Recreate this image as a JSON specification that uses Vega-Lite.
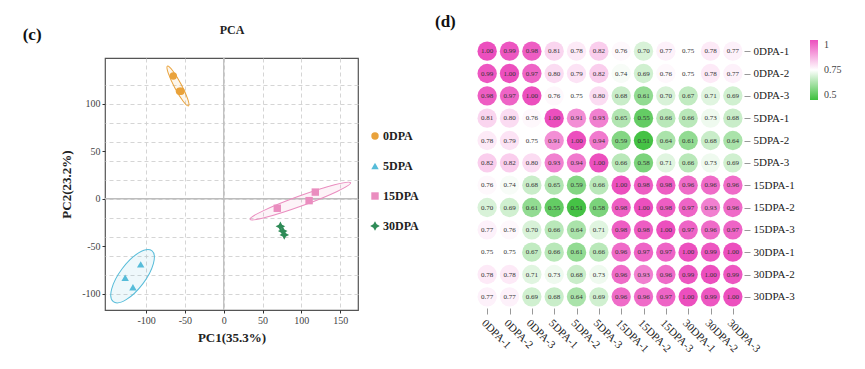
{
  "$schema": "https://vega.github.io/schema/vega-lite/v6.json",
  "background": "white",
  "padding": {"left": 22, "top": 13, "right": 0, "bottom": 0},
  "config": {"font": "Liberation Serif"},
  "datasets": {
    "pca": [
      {"group": "0DPA", "pc1": -65, "pc2": 129},
      {"group": "0DPA", "pc1": -57, "pc2": 113},
      {"group": "0DPA", "pc1": -55, "pc2": 113},
      {"group": "5DPA", "pc1": -107, "pc2": -69},
      {"group": "5DPA", "pc1": -127, "pc2": -83},
      {"group": "5DPA", "pc1": -117, "pc2": -93},
      {"group": "15DPA", "pc1": 69, "pc2": -10},
      {"group": "15DPA", "pc1": 110, "pc2": -2},
      {"group": "15DPA", "pc1": 118, "pc2": 7},
      {"group": "30DPA", "pc1": 73, "pc2": -29},
      {"group": "30DPA", "pc1": 76, "pc2": -34},
      {"group": "30DPA", "pc1": 78, "pc2": -38}
    ],
    "ellipses": [
      {"group": "0DPA", "cx": -59, "cy": 118.6},
      {"group": "5DPA", "cx": -117.5, "cy": -81.4},
      {"group": "15DPA", "cx": 98.7, "cy": -2.4}
    ],
    "zero": [{"z": 0}],
    "corr": [
      {"row":"0DPA-1","col":"0DPA-1","r":1.00},{"row":"0DPA-1","col":"0DPA-2","r":0.99},{"row":"0DPA-1","col":"0DPA-3","r":0.98},{"row":"0DPA-1","col":"5DPA-1","r":0.81},{"row":"0DPA-1","col":"5DPA-2","r":0.78},{"row":"0DPA-1","col":"5DPA-3","r":0.82},{"row":"0DPA-1","col":"15DPA-1","r":0.76},{"row":"0DPA-1","col":"15DPA-2","r":0.70},{"row":"0DPA-1","col":"15DPA-3","r":0.77},{"row":"0DPA-1","col":"30DPA-1","r":0.75},{"row":"0DPA-1","col":"30DPA-2","r":0.78},{"row":"0DPA-1","col":"30DPA-3","r":0.77},
      {"row":"0DPA-2","col":"0DPA-1","r":0.99},{"row":"0DPA-2","col":"0DPA-2","r":1.00},{"row":"0DPA-2","col":"0DPA-3","r":0.97},{"row":"0DPA-2","col":"5DPA-1","r":0.80},{"row":"0DPA-2","col":"5DPA-2","r":0.79},{"row":"0DPA-2","col":"5DPA-3","r":0.82},{"row":"0DPA-2","col":"15DPA-1","r":0.74},{"row":"0DPA-2","col":"15DPA-2","r":0.69},{"row":"0DPA-2","col":"15DPA-3","r":0.76},{"row":"0DPA-2","col":"30DPA-1","r":0.75},{"row":"0DPA-2","col":"30DPA-2","r":0.78},{"row":"0DPA-2","col":"30DPA-3","r":0.77},
      {"row":"0DPA-3","col":"0DPA-1","r":0.98},{"row":"0DPA-3","col":"0DPA-2","r":0.97},{"row":"0DPA-3","col":"0DPA-3","r":1.00},{"row":"0DPA-3","col":"5DPA-1","r":0.76},{"row":"0DPA-3","col":"5DPA-2","r":0.75},{"row":"0DPA-3","col":"5DPA-3","r":0.80},{"row":"0DPA-3","col":"15DPA-1","r":0.68},{"row":"0DPA-3","col":"15DPA-2","r":0.61},{"row":"0DPA-3","col":"15DPA-3","r":0.70},{"row":"0DPA-3","col":"30DPA-1","r":0.67},{"row":"0DPA-3","col":"30DPA-2","r":0.71},{"row":"0DPA-3","col":"30DPA-3","r":0.69},
      {"row":"5DPA-1","col":"0DPA-1","r":0.81},{"row":"5DPA-1","col":"0DPA-2","r":0.80},{"row":"5DPA-1","col":"0DPA-3","r":0.76},{"row":"5DPA-1","col":"5DPA-1","r":1.00},{"row":"5DPA-1","col":"5DPA-2","r":0.91},{"row":"5DPA-1","col":"5DPA-3","r":0.93},{"row":"5DPA-1","col":"15DPA-1","r":0.65},{"row":"5DPA-1","col":"15DPA-2","r":0.55},{"row":"5DPA-1","col":"15DPA-3","r":0.66},{"row":"5DPA-1","col":"30DPA-1","r":0.66},{"row":"5DPA-1","col":"30DPA-2","r":0.73},{"row":"5DPA-1","col":"30DPA-3","r":0.68},
      {"row":"5DPA-2","col":"0DPA-1","r":0.78},{"row":"5DPA-2","col":"0DPA-2","r":0.79},{"row":"5DPA-2","col":"0DPA-3","r":0.75},{"row":"5DPA-2","col":"5DPA-1","r":0.91},{"row":"5DPA-2","col":"5DPA-2","r":1.00},{"row":"5DPA-2","col":"5DPA-3","r":0.94},{"row":"5DPA-2","col":"15DPA-1","r":0.59},{"row":"5DPA-2","col":"15DPA-2","r":0.51},{"row":"5DPA-2","col":"15DPA-3","r":0.64},{"row":"5DPA-2","col":"30DPA-1","r":0.61},{"row":"5DPA-2","col":"30DPA-2","r":0.68},{"row":"5DPA-2","col":"30DPA-3","r":0.64},
      {"row":"5DPA-3","col":"0DPA-1","r":0.82},{"row":"5DPA-3","col":"0DPA-2","r":0.82},{"row":"5DPA-3","col":"0DPA-3","r":0.80},{"row":"5DPA-3","col":"5DPA-1","r":0.93},{"row":"5DPA-3","col":"5DPA-2","r":0.94},{"row":"5DPA-3","col":"5DPA-3","r":1.00},{"row":"5DPA-3","col":"15DPA-1","r":0.66},{"row":"5DPA-3","col":"15DPA-2","r":0.58},{"row":"5DPA-3","col":"15DPA-3","r":0.71},{"row":"5DPA-3","col":"30DPA-1","r":0.66},{"row":"5DPA-3","col":"30DPA-2","r":0.73},{"row":"5DPA-3","col":"30DPA-3","r":0.69},
      {"row":"15DPA-1","col":"0DPA-1","r":0.76},{"row":"15DPA-1","col":"0DPA-2","r":0.74},{"row":"15DPA-1","col":"0DPA-3","r":0.68},{"row":"15DPA-1","col":"5DPA-1","r":0.65},{"row":"15DPA-1","col":"5DPA-2","r":0.59},{"row":"15DPA-1","col":"5DPA-3","r":0.66},{"row":"15DPA-1","col":"15DPA-1","r":1.00},{"row":"15DPA-1","col":"15DPA-2","r":0.98},{"row":"15DPA-1","col":"15DPA-3","r":0.98},{"row":"15DPA-1","col":"30DPA-1","r":0.96},{"row":"15DPA-1","col":"30DPA-2","r":0.96},{"row":"15DPA-1","col":"30DPA-3","r":0.96},
      {"row":"15DPA-2","col":"0DPA-1","r":0.70},{"row":"15DPA-2","col":"0DPA-2","r":0.69},{"row":"15DPA-2","col":"0DPA-3","r":0.61},{"row":"15DPA-2","col":"5DPA-1","r":0.55},{"row":"15DPA-2","col":"5DPA-2","r":0.51},{"row":"15DPA-2","col":"5DPA-3","r":0.58},{"row":"15DPA-2","col":"15DPA-1","r":0.98},{"row":"15DPA-2","col":"15DPA-2","r":1.00},{"row":"15DPA-2","col":"15DPA-3","r":0.98},{"row":"15DPA-2","col":"30DPA-1","r":0.97},{"row":"15DPA-2","col":"30DPA-2","r":0.93},{"row":"15DPA-2","col":"30DPA-3","r":0.96},
      {"row":"15DPA-3","col":"0DPA-1","r":0.77},{"row":"15DPA-3","col":"0DPA-2","r":0.76},{"row":"15DPA-3","col":"0DPA-3","r":0.70},{"row":"15DPA-3","col":"5DPA-1","r":0.66},{"row":"15DPA-3","col":"5DPA-2","r":0.64},{"row":"15DPA-3","col":"5DPA-3","r":0.71},{"row":"15DPA-3","col":"15DPA-1","r":0.98},{"row":"15DPA-3","col":"15DPA-2","r":0.98},{"row":"15DPA-3","col":"15DPA-3","r":1.00},{"row":"15DPA-3","col":"30DPA-1","r":0.97},{"row":"15DPA-3","col":"30DPA-2","r":0.96},{"row":"15DPA-3","col":"30DPA-3","r":0.97},
      {"row":"30DPA-1","col":"0DPA-1","r":0.75},{"row":"30DPA-1","col":"0DPA-2","r":0.75},{"row":"30DPA-1","col":"0DPA-3","r":0.67},{"row":"30DPA-1","col":"5DPA-1","r":0.66},{"row":"30DPA-1","col":"5DPA-2","r":0.61},{"row":"30DPA-1","col":"5DPA-3","r":0.66},{"row":"30DPA-1","col":"15DPA-1","r":0.96},{"row":"30DPA-1","col":"15DPA-2","r":0.97},{"row":"30DPA-1","col":"15DPA-3","r":0.97},{"row":"30DPA-1","col":"30DPA-1","r":1.00},{"row":"30DPA-1","col":"30DPA-2","r":0.99},{"row":"30DPA-1","col":"30DPA-3","r":1.00},
      {"row":"30DPA-2","col":"0DPA-1","r":0.78},{"row":"30DPA-2","col":"0DPA-2","r":0.78},{"row":"30DPA-2","col":"0DPA-3","r":0.71},{"row":"30DPA-2","col":"5DPA-1","r":0.73},{"row":"30DPA-2","col":"5DPA-2","r":0.68},{"row":"30DPA-2","col":"5DPA-3","r":0.73},{"row":"30DPA-2","col":"15DPA-1","r":0.96},{"row":"30DPA-2","col":"15DPA-2","r":0.93},{"row":"30DPA-2","col":"15DPA-3","r":0.96},{"row":"30DPA-2","col":"30DPA-1","r":0.99},{"row":"30DPA-2","col":"30DPA-2","r":1.00},{"row":"30DPA-2","col":"30DPA-3","r":0.99},
      {"row":"30DPA-3","col":"0DPA-1","r":0.77},{"row":"30DPA-3","col":"0DPA-2","r":0.77},{"row":"30DPA-3","col":"0DPA-3","r":0.69},{"row":"30DPA-3","col":"5DPA-1","r":0.68},{"row":"30DPA-3","col":"5DPA-2","r":0.64},{"row":"30DPA-3","col":"5DPA-3","r":0.69},{"row":"30DPA-3","col":"15DPA-1","r":0.96},{"row":"30DPA-3","col":"15DPA-2","r":0.96},{"row":"30DPA-3","col":"15DPA-3","r":0.97},{"row":"30DPA-3","col":"30DPA-1","r":1.00},{"row":"30DPA-3","col":"30DPA-2","r":0.99},{"row":"30DPA-3","col":"30DPA-3","r":1.00}
    ]
  },
  "spacing": 16,
  "resolve": {"scale": {"x": "independent", "y": "independent", "color": "independent", "shape": "independent"}, "legend": {"color": "independent", "shape": "independent"}},
  "hconcat": [
    {
      "bounds": "flush",
      "spacing": 17,
      "vconcat": [
        {
          "width": 1,
          "height": 1,
          "view": {"stroke": null},
          "data": {"values": [{"s": 0}]},
          "mark": {"type": "point", "opacity": 0},
          "encoding": {}
        },
        {
          "width": 253,
          "height": 252,
          "view": {"stroke": "#555555", "strokeWidth": 1.2},
          "title": {"text": "(c)", "anchor": "start", "frame": "bounds", "fontSize": 17, "fontWeight": "bold", "font": "Liberation Serif", "color": "#111111", "dx": -38, "dy": 21, "offset": 0},
          "resolve": {"axis": {"x": "independent", "y": "independent"}},
          "layer": [
            {
              "data": {"name": "zero"},
              "mark": {"type": "rule", "color": "#bdbdbd", "strokeWidth": 1.3},
              "encoding": {
                "x": {"field": "z", "type": "quantitative", "scale": {"domain": [-153, 173], "nice": false, "zero": false},
                  "axis": {"orient": "top", "title": "PCA", "labels": false, "ticks": false, "domain": false, "grid": false, "titleFontSize": 12, "titleFontWeight": "bold", "titleColor": "#222222", "titlePadding": 22}}
              }
            },
            {
              "data": {"name": "zero"},
              "mark": {"type": "rule", "color": "#bdbdbd", "strokeWidth": 1.3},
              "encoding": {
                "y": {"field": "z", "type": "quantitative", "scale": {"domain": [-117, 148], "nice": false, "zero": false},
                  "axis": {"orient": "right", "title": null, "labels": false, "ticks": false, "domain": false, "grid": true, "values": [-100, -80, -60, -40, -20, 0, 20, 40, 60, 80, 100, 120], "gridDash": [4, 3], "gridColor": "#d0d0d0", "gridWidth": 0.9}}
              }
            },
            {
              "data": {"name": "ellipses"},
              "transform": [{"filter": "datum.group === '0DPA'"}],
              "mark": {"type": "point", "shape": "M-1,0A1,0.16,0,1,1,1,0A1,0.16,0,1,1,-1,0Z", "size": 2025, "angle": 62, "filled": true, "fill": "#E9A23B", "fillOpacity": 0.1, "stroke": "#E9A23B", "strokeWidth": 1, "opacity": 1},
              "encoding": {
                "x": {"field": "cx", "type": "quantitative", "scale": {"domain": [-153, 173], "nice": false, "zero": false}, "axis": null},
                "y": {"field": "cy", "type": "quantitative", "scale": {"domain": [-117, 148], "nice": false, "zero": false}, "axis": null}
              }
            },
            {
              "data": {"name": "ellipses"},
              "transform": [{"filter": "datum.group === '5DPA'"}],
              "mark": {"type": "point", "shape": "M-1,0A1,0.4,0,1,1,1,0A1,0.4,0,1,1,-1,0Z", "size": 4096, "angle": 307, "filled": true, "fill": "#56BCD9", "fillOpacity": 0.1, "stroke": "#56BCD9", "strokeWidth": 1, "opacity": 1},
              "encoding": {
                "x": {"field": "cx", "type": "quantitative", "scale": {"domain": [-153, 173], "nice": false, "zero": false}, "axis": null},
                "y": {"field": "cy", "type": "quantitative", "scale": {"domain": [-117, 148], "nice": false, "zero": false}, "axis": null}
              }
            },
            {
              "data": {"name": "ellipses"},
              "transform": [{"filter": "datum.group === '15DPA'"}],
              "mark": {"type": "point", "shape": "M-1,0A1,0.095,0,1,1,1,0A1,0.095,0,1,1,-1,0Z", "size": 11449, "angle": 340, "filled": true, "fill": "#EA8DBF", "fillOpacity": 0.1, "stroke": "#EA8DBF", "strokeWidth": 1, "opacity": 1},
              "encoding": {
                "x": {"field": "cx", "type": "quantitative", "scale": {"domain": [-153, 173], "nice": false, "zero": false}, "axis": null},
                "y": {"field": "cy", "type": "quantitative", "scale": {"domain": [-117, 148], "nice": false, "zero": false}, "axis": null}
              }
            },
            {
              "data": {"name": "pca"},
              "mark": {"type": "point", "filled": true, "size": 55, "opacity": 1},
              "encoding": {
                "x": {"field": "pc1", "type": "quantitative", "scale": {"domain": [-153, 173], "nice": false, "zero": false},
                  "axis": {"title": "PC1(35.3%)", "values": [-100, -50, 0, 50, 100, 150], "labelExpr": "replace(datum.label, '−', '-')", "grid": true, "gridDash": [4, 3], "gridColor": "#d0d0d0", "gridWidth": 0.9, "domain": false, "tickSize": 3, "tickColor": "#333333", "labelFontSize": 10, "labelColor": "#444444", "labelPadding": 2, "titleFontSize": 13, "titleFontWeight": "bold", "titleColor": "#222222", "titlePadding": 6}},
                "y": {"field": "pc2", "type": "quantitative", "scale": {"domain": [-117, 148], "nice": false, "zero": false},
                  "axis": {"title": "PC2(23.2%)", "values": [-100, -50, 0, 50, 100], "labelExpr": "replace(datum.label, '−', '-')", "grid": false, "domain": false, "tickSize": 3, "tickColor": "#333333", "labelFontSize": 10, "labelColor": "#444444", "labelPadding": 2, "titleFontSize": 13, "titleFontWeight": "bold", "titleColor": "#222222", "titlePadding": 8}},
                "color": {"field": "group", "type": "nominal", "sort": ["0DPA", "5DPA", "15DPA", "30DPA"],
                  "scale": {"domain": ["0DPA", "5DPA", "15DPA", "30DPA"], "range": ["#E9A23B", "#56BCD9", "#EA8DBF", "#2E8B57"]},
                  "legend": {"title": null, "orient": "none", "legendX": 264, "legendY": 90, "padding": 0, "labelFontSize": 12, "labelFontWeight": "bold", "labelColor": "#222222", "labelOffset": 2, "rowPadding": 18, "symbolSize": 55}},
                "shape": {"field": "group", "type": "nominal", "sort": ["0DPA", "5DPA", "15DPA", "30DPA"],
                  "scale": {"domain": ["0DPA", "5DPA", "15DPA", "30DPA"], "range": ["circle", "triangle-up", "square", "M0,-1.3L0.45,-0.45L1.3,0L0.45,0.45L0,1.3L-0.45,0.45L-1.3,0L-0.45,-0.45Z"]},
                  "legend": {"title": null, "orient": "none", "legendX": 264, "legendY": 90, "padding": 0, "labelFontSize": 12, "labelFontWeight": "bold", "labelColor": "#222222", "labelOffset": 2, "rowPadding": 18, "symbolSize": 55}}
              }
            }
          ]
        }
      ]
    },
    {
      "width": 268,
      "height": 268,
      "view": {"stroke": null},
      "data": {"name": "corr"},
      "title": {"text": "(d)", "anchor": "start", "frame": "bounds", "fontSize": 17, "fontWeight": "bold", "font": "Liberation Serif", "color": "#111111", "dx": -41, "offset": 9},
      "encoding": {
        "x": {"field": "col", "type": "nominal", "sort": ["0DPA-1","0DPA-2","0DPA-3","5DPA-1","5DPA-2","5DPA-3","15DPA-1","15DPA-2","15DPA-3","30DPA-1","30DPA-2","30DPA-3"],
          "scale": {"padding": 0.5},
          "axis": {"title": null, "labelAngle": 45, "labelAlign": "left", "labelBaseline": "top", "labelFontSize": 11, "labelColor": "#222222", "tickSize": 6, "tickColor": "#999999", "domain": false, "labelPadding": 3}},
        "y": {"field": "row", "type": "nominal", "sort": ["0DPA-1","0DPA-2","0DPA-3","5DPA-1","5DPA-2","5DPA-3","15DPA-1","15DPA-2","15DPA-3","30DPA-1","30DPA-2","30DPA-3"],
          "scale": {"padding": 0.5},
          "axis": {"title": null, "orient": "right", "labelFontSize": 11, "labelColor": "#222222", "tickSize": 6, "tickColor": "#999999", "domain": false, "labelPadding": 3}}
      },
      "layer": [
        {
          "mark": {"type": "point", "shape": "circle", "filled": true, "size": 375, "opacity": 1},
          "encoding": {
            "color": {"field": "r", "type": "quantitative",
              "scale": {"domain": [0.5, 0.75, 1], "range": ["#3dbf3d", "#ffffff", "#ec4fbe"], "interpolate": "rgb", "clamp": true},
              "legend": {"title": null, "orient": "right", "offset": 15, "direction": "vertical", "gradientLength": 60, "gradientThickness": 8, "gradientStrokeWidth": 0, "values": [0.5, 0.75, 1], "labelExpr": "'' + datum.value", "labelFontSize": 10, "labelColor": "#444444", "labelOffset": 6}}
          }
        },
        {
          "mark": {"type": "text", "fontSize": 7, "color": "#333333", "font": "Liberation Serif"},
          "encoding": {"text": {"field": "r", "type": "quantitative", "format": ".2f"}}
        }
      ]
    }
  ]
}
